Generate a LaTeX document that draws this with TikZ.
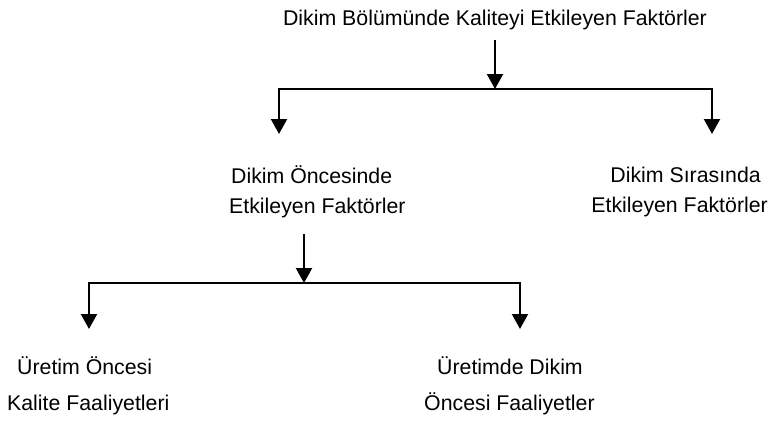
\documentclass[tikz,border=0pt]{standalone}
\usepackage{fontspec}
\setmainfont{Liberation Sans}
\usetikzlibrary{arrows.meta}
\begin{document}
\begin{tikzpicture}[x=1pt,y=-1pt,
  lbl/.style={inner sep=0pt, font=\fontsize{21.3}{26}\selectfont},
  conn/.style={line width=2.2pt, line join=miter},
  arr/.style={conn, -{Triangle[length=15pt,width=16pt]}}]
\useasboundingbox (0,0) rectangle (772,423);
% texts
\node[lbl, anchor=base] (top) at (495,25) {Dikim Bölümünde Kaliteyi Etkileyen Faktörler};
\node[lbl, anchor=base west] (mla) at (231,183) {Dikim Öncesinde};
\node[lbl, anchor=base west] (mlb) at (229,213) {Etkileyen Faktörler};
\node[lbl, anchor=base east] (mra) at (761,182) {Dikim Sırasında};
\node[lbl, anchor=base east] (mrb) at (768,212) {Etkileyen Faktörler};
\node[lbl, anchor=base west] (bla) at (17,374) {Üretim Öncesi};
\node[lbl, anchor=base west] (blb) at (7,410) {Kalite Faaliyetleri};
\node[lbl, anchor=base west] (bra) at (437,374) {Üretimde Dikim};
\node[lbl, anchor=base west] (brb) at (424,410) {Öncesi Faaliyetler};
% connector points
\coordinate (s1) at (495,40);
\coordinate (j1) at (495,89);
\coordinate (l1) at (279,89);
\coordinate (r1) at (712,89);
\coordinate (el1) at (279,134);
\coordinate (er1) at (712,134);
\coordinate (s2) at (304,234);
\coordinate (j2) at (304,283);
\coordinate (l2) at (89,283);
\coordinate (r2) at (520,283);
\coordinate (el2) at (89,329);
\coordinate (er2) at (520,329);
% connectors
\draw[arr] (s1) -- (j1);
\draw[arr] (r1) -- (l1) -- (el1);
\draw[arr] (l1) -- (r1) -- (er1);
\draw[arr] (s2) -- (j2);
\draw[arr] (r2) -- (l2) -- (el2);
\draw[arr] (l2) -- (r2) -- (er2);
\end{tikzpicture}
\end{document}
